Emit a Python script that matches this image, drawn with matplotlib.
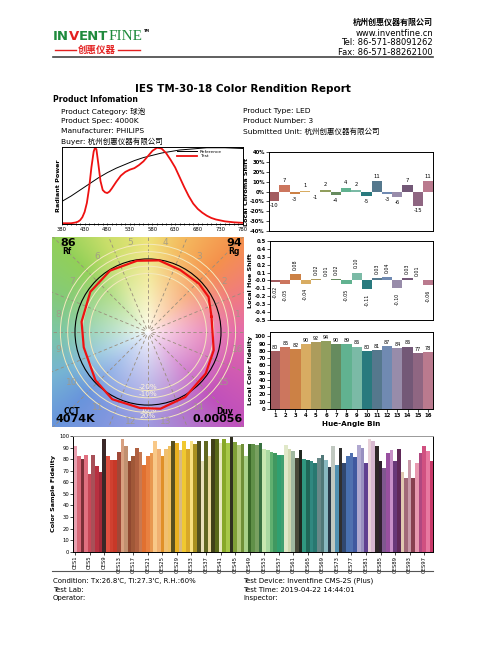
import matplotlib
matplotlib.use("Agg")
import matplotlib.pyplot as plt
import numpy as np
from matplotlib.colors import to_rgb
from matplotlib.lines import Line2D
from matplotlib.patches import Circle

W, H = 487, 655

# ---------------- data ----------------
wavelength = [380, 400, 410, 415, 420, 425, 430, 435, 440, 445, 450, 453, 456, 460,
              465, 470, 475, 480, 485, 490, 500, 510, 520, 530, 540, 550, 560, 570,
              580, 590, 600, 610, 620, 630, 640, 650, 660, 670, 680, 690, 700, 710,
              720, 740, 760, 780]
test_spd = [0.00, 0.00, 0.01, 0.02, 0.04, 0.08, 0.15, 0.27, 0.47, 0.74, 0.95, 1.00, 0.98, 0.80,
            0.56, 0.44, 0.41, 0.40, 0.42, 0.46, 0.55, 0.63, 0.68, 0.71, 0.73, 0.77, 0.82, 0.89,
            0.96, 1.00, 0.99, 0.93, 0.84, 0.74, 0.61, 0.48, 0.36, 0.26, 0.19, 0.14, 0.10, 0.07,
            0.05, 0.025, 0.012, 0.005]
ref_wl = [380, 400, 420, 440, 460, 480, 500, 520, 540, 560, 580, 600, 620, 640, 660,
          680, 700, 720, 740, 760, 780]
ref_spd = [0.29, 0.36, 0.44, 0.52, 0.60, 0.67, 0.73, 0.78, 0.83, 0.87, 0.90, 0.93, 0.95,
           0.97, 0.98, 0.99, 1.00, 1.00, 1.00, 0.995, 0.99]

bins = list(range(1, 17))
chroma_shift = [-10, 7, -3, 1, -1, 2, -4, 4, 2, -5, 11, -3, -6, 7, -15, 11]
hue_shift = [-0.02, -0.05, 0.08, -0.04, 0.02, 0.01, 0.02, -0.05, 0.10, -0.11,
             0.03, 0.04, -0.10, 0.03, 0.01, -0.06]
local_fidelity = [80, 85, 82, 90, 92, 94, 90, 89, 86, 80, 81, 87, 84, 86, 77, 78]
bin_colors = ['#A35C60', '#CC765E', '#CC8145', '#D8AC62', '#AC9C5C', '#919E5D',
              '#668B5E', '#61B290', '#7BBAA6', '#297A7E', '#55788D', '#708AB2',
              '#988CAA', '#735877', '#8F6682', '#BA7A8E']

# test polygon of the colour vector graphic (reference circle has radius 1)
cvg_test_x = [0.87, 0.83, 0.70, 0.44, 0.15, -0.15, -0.52, -0.79, -0.91,
              -0.88, -0.72, -0.49, -0.11, 0.17, 0.51, 0.79, 0.90]
cvg_test_y = [0.21, 0.48, 0.66, 0.85, 0.98, 0.975, 0.84, 0.55, 0.14,
              -0.21, -0.66, -0.92, -1.04, -1.05, -0.89, -0.57, -0.25]

rf, rg, cct, duv = 86, 94, 4074, 0.00056

ces_fidelity = [91, 83, 80, 84, 67, 84, 74, 69, 97, 83,
                79, 79, 86, 97, 91, 78, 83, 90, 86, 75,
                83, 85, 96, 89, 83, 89, 91, 96, 94, 88,
                96, 89, 96, 93, 96, 78, 96, 83, 97, 97,
                94, 97, 94, 100, 95, 92, 93, 83, 93, 93,
                92, 94, 89, 88, 86, 85, 84, 84, 92, 89,
                87, 81, 88, 80, 79, 78, 77, 81, 84, 79,
                73, 91, 75, 90, 77, 83, 85, 82, 92, 90,
                77, 97, 96, 91, 78, 72, 85, 88, 78, 89,
                69, 64, 79, 64, 77, 85, 91, 87, 78]
ces_colors = ['#E8A0B0', '#D86878', '#7A3038', '#E07080', '#C84858', '#A85058', '#B83040', '#A02838', '#3A2828', '#E05040',
              '#D04030', '#C83828', '#A04838', '#D8A080', '#C09070', '#904830', '#A05838', '#B06040', '#C87850', '#E07030',
              '#E88040', '#E89850', '#F8C888', '#F0B070', '#E09028', '#F0C070', '#F0C060', '#585020', '#E8B020', '#D8B880',
              '#F0C830', '#D8A828', '#F8E080', '#A89020', '#505020', '#E8E0B8', '#606820', '#E8D898', '#404018', '#586818',
              '#E8E8C0', '#88A828', '#A8C848', '#303020', '#80A038', '#B0C878', '#709038', '#A8D088', '#3A6828', '#609048',
              '#78A060', '#387040', '#C8E8B0', '#A8D8A0', '#60B070', '#409860', '#30A070', '#40A070', '#E0E8C8', '#D0D8B0',
              '#A0B8A0', '#484838', '#202820', '#309880', '#206858', '#308880', '#287870', '#688888', '#507878', '#88B8C0',
              '#283848', '#C0C8C0', '#5090B0', '#303030', '#304870', '#4870B0', '#5070B0', '#4058A0', '#B0A8D0', '#9890C0',
              '#604090', '#E8D0D8', '#D8B8D0', '#302828', '#302030', '#805890', '#9850A0', '#C890C8', '#683878', '#602858',
              '#E0C8B0', '#A06878', '#C898A8', '#884050', '#E898B0', '#B04880', '#D05080', '#E878A0', '#C83868']
ces_ticks = list(range(1, 100, 4))

# ---------------- figure ----------------
plt.rcParams['font.family'] = ['DejaVu Sans', 'Noto Sans CJK SC']
plt.rcParams['axes.linewidth'] = 0.7
fig = plt.figure(figsize=(W / 100, H / 100), dpi=100)


def ax_box(l, t, r, b):
    return [l / W, 1 - b / H, (r - l) / W, (b - t) / H]


def ftext(x, y, s, **kw):
    kw.setdefault('va', 'center')
    return fig.text(x / W, 1 - y / H, s, **kw)


def hline(x0, x1, y, **kw):
    fig.add_artist(Line2D([x0 / W, x1 / W], [1 - y / H, 1 - y / H], **kw))


GREEN, RED = '#1F8A3C', '#E32020'

# logo
renderer = fig.canvas.get_renderer()
x = 53
for s, c, fam, wt in [('IN', GREEN, 'DejaVu Sans', 'bold'), ('V', RED, 'DejaVu Sans', 'bold'),
                      ('ENT', GREEN, 'DejaVu Sans', 'bold'), ('FINE', GREEN, 'Liberation Serif', 'normal')]:
    t = ftext(x, 40, s, color=c, family=fam, weight=wt, fontsize=9.5 if fam != 'Liberation Serif' else 11,
              va='baseline')
    x += t.get_window_extent(renderer).width
ftext(x + 1, 31, 'TM', fontsize=2.5, weight='bold')
ftext(97, 50, '创惠仪器', color=RED, fontsize=6.8, ha='center', weight='bold')
hline(55, 76, 50, color=RED, lw=1.0)
hline(118, 140, 50, color=RED, lw=1.0)

# header right
ftext(433, 22, '杭州创惠仪器有限公司', ha='right', fontsize=5.8, weight='bold')
ftext(433, 33, 'www.inventfine.cn', ha='right', fontsize=6)
ftext(433, 42.5, 'Tel: 86-571-88091262', ha='right', fontsize=6)
ftext(433, 52.5, 'Fax: 86-571-88262100', ha='right', fontsize=6)
hline(53, 433, 57, color='#444444', lw=1.2)

ftext(243, 89, 'IES TM-30-18 Color Rendition Report', ha='center', fontsize=7.5, weight='bold')

# product information
ftext(53, 100, 'Product Infomation', fontsize=5.6, weight='bold')
left_info = ['Product Category: 球泡', 'Product Spec: 4000K', 'Manufacturer: PHILIPS', 'Buyer: 杭州创惠仪器有限公司']
right_info = ['Product Type: LED', 'Product Number: 3', 'Submitted Unit: 杭州创惠仪器有限公司']
for i, s in enumerate(left_info):
    ftext(61, 111 + i * 10, s, fontsize=5.4)
for i, s in enumerate(right_info):
    ftext(243, 111 + i * 10, s, fontsize=5.4)

TICK = dict(labelsize=3.8, length=2, width=0.5, pad=1)

# ---------------- spectrum ----------------
ax = fig.add_axes(ax_box(62, 147, 243, 224))
ax.plot(ref_wl, ref_spd, color='black', lw=0.7, label='Reference')
ax.plot(wavelength, test_spd, color='#EE1111', lw=1.3, label='Test')
ax.set_xlim(380, 780)
ax.set_ylim(-0.01, 1.01)
ax.set_xticks(range(380, 781, 50))
ax.set_xticks(range(380, 781, 10), minor=True)
ax.set_yticks([])
ax.tick_params(axis='x', which='both', direction='inout', **TICK)
ax.tick_params(axis='x', which='minor', length=2)
ax.set_ylabel('Radiant Power', fontsize=4.6, weight='bold', labelpad=1)
ax.legend(loc='upper right', fontsize=3.2, frameon=False, handlelength=4.5,
          labelspacing=0.1, borderaxespad=0.2, bbox_to_anchor=(0.9, 1.0))

# ---------------- local chroma shift ----------------
ax = fig.add_axes(ax_box(269, 152, 433, 231))
ax.bar(bins, chroma_shift, width=1.0, color=bin_colors)
for b, v in zip(bins, chroma_shift):
    ax.annotate(f'{v}', (b, v), xytext=(0, 1.5 if v >= 0 else -1.5), textcoords='offset points',
                ha='center', va='bottom' if v >= 0 else 'top', fontsize=3.8)
ax.set_xlim(0.5, 16.5)
ax.set_ylim(-40, 40)
ax.set_yticks(range(-40, 41, 10))
ax.set_yticklabels([f'{v}%' for v in range(-40, 41, 10)], weight='bold')
ax.set_xticks([])
ax.tick_params(axis='y', **TICK)
ax.set_ylabel('Local Chroma Shift', fontsize=4.6, weight='bold', labelpad=1)

# ---------------- local hue shift ----------------
ax = fig.add_axes(ax_box(270, 241, 433, 320))
ax.bar(bins, hue_shift, width=1.0, color=bin_colors)
for b, v in zip(bins, hue_shift):
    ax.annotate(f'{v:.2f}', (b, v), xytext=(0, 3 if v >= 0 else -3), textcoords='offset points',
                ha='center', va='bottom' if v >= 0 else 'top', fontsize=3.4, rotation=90)
ax.set_xlim(0.5, 16.5)
ax.set_ylim(-0.5, 0.5)
ax.set_yticks(np.round(np.arange(-0.5, 0.51, 0.1), 1))
ax.set_yticklabels([f'{v:.1f}' for v in np.round(np.arange(-0.5, 0.51, 0.1), 1)], weight='bold')
ax.set_xticks([])
ax.tick_params(axis='y', **TICK)
ax.set_ylabel('Local Hue Shift', fontsize=4.6, weight='bold', labelpad=1)

# ---------------- local color fidelity ----------------
ax = fig.add_axes(ax_box(270, 332, 433, 409))
ax.bar(bins, local_fidelity, width=1.0, color=bin_colors)
for b, v in zip(bins, local_fidelity):
    ax.annotate(f'{v}', (b, v), xytext=(0, 0.8), textcoords='offset points',
                ha='center', va='bottom', fontsize=3.5)
ax.set_xlim(0.5, 16.5)
ax.set_ylim(0, 106)
ax.set_yticks(range(0, 101, 10))
ax.set_xticks(bins)
ax.tick_params(axis='both', **TICK)
for lab in ax.get_xticklabels() + ax.get_yticklabels():
    lab.set_fontweight('bold')
ax.set_ylabel('Local Color Fidelity', fontsize=4.6, weight='bold', labelpad=1)
ax.set_xlabel('Hue-Angle Bin', fontsize=5.2, weight='bold', labelpad=2)

# ---------------- colour vector graphic ----------------
ax = fig.add_axes(ax_box(52, 237, 244, 427))
XL, YL = 1.315, 1.30
anchor_deg = [0, 22.5, 45, 70, 90, 115, 135, 160, 180, 205, 225, 250, 270, 295, 315, 340, 360]
anchor_hex = ['#E46CAC', '#F07C80', '#F5914C', '#F4BC60', '#EEE47A', '#C8DE6A', '#92D058',
              '#84CA7C', '#7CC6A4', '#76B4D4', '#6894DC', '#8898E0', '#A09CE0', '#B276CC',
              '#C050BC', '#D45EB0', '#E46CAC']
rgb_anchor = np.array([to_rgb(c) for c in anchor_hex])
gx = np.linspace(-XL, XL, 320)
gy = np.linspace(-YL, YL, 320)
xx, yy = np.meshgrid(gx, gy)
ang = np.degrees(np.arctan2(yy, xx)) % 360
sat = np.clip(np.hypot(xx, yy) / 1.2, 0, 1) ** 0.7
img = np.stack([np.interp(ang, anchor_deg, rgb_anchor[:, k]) for k in range(3)], axis=-1)
img = 1 - sat[..., None] * (1 - img)
ax.imshow(img, extent=[-XL, XL, -YL, YL], origin='lower', aspect='auto', zorder=0)
for k in range(16):
    a = np.radians(k * 22.5)
    ax.plot([0.05 * np.cos(a), 2 * np.cos(a)], [0.05 * np.sin(a), 2 * np.sin(a)],
            color='#9A8E7C', lw=0.6, ls=(0, (4, 3)), zorder=1)
for r in (0.8, 0.9, 1.1, 1.2):
    ax.add_patch(Circle((0, 0), r, fill=False, ec='#F4E9BE', lw=0.7, zorder=2))
for k in range(16):
    a = np.radians((k + 0.5) * 22.5)
    ax.text(1.25 * np.cos(a), 1.25 * np.sin(a), str(k + 1), ha='center', va='center',
            fontsize=6.5, color='#A09A88', alpha=0.9, zorder=2)
for yv, s in [(-0.75, '-20%'), (-0.85, '-10%'), (-1.065, '10%'), (-1.15, '20%')]:
    ax.text(0, yv, s, ha='center', va='center', fontsize=5.2, color='#FFF6DA', zorder=3)
ax.add_patch(Circle((0, 0), 1.0, fill=False, ec='black', lw=0.8, zorder=4))
ax.plot(cvg_test_x + cvg_test_x[:1], cvg_test_y + cvg_test_y[:1], color='#EE1111', lw=1.6, zorder=5)
ax.set_xlim(-XL, XL)
ax.set_ylim(-YL, YL)
ax.axis('off')

ftext(68, 243, f'{rf}', ha='center', fontsize=8, weight='bold')
ftext(67, 251.5, 'Rf', ha='center', fontsize=5.5, weight='bold')
ftext(234, 243, f'{rg}', ha='center', fontsize=8, weight='bold')
ftext(234, 251.5, 'Rg', ha='center', fontsize=5.5, weight='bold')
ftext(72, 411, 'CCT', ha='center', fontsize=5.5, weight='bold')
ftext(55, 419.5, f'{cct}K', fontsize=8, weight='bold')
ftext(225, 411, 'Duv', ha='center', fontsize=5.5, weight='bold')
ftext(243, 419.5, f'{duv:.5f}', ha='right', fontsize=8, weight='bold')

# ---------------- colour sample fidelity ----------------
ax = fig.add_axes(ax_box(73.3, 436, 433.3, 551.7))
ces_idx = list(range(1, 100))
ax.bar(ces_idx, ces_fidelity, width=1.0, color=ces_colors)
ax.set_xlim(0.5, 99.5)
ax.set_ylim(0, 100)
ax.set_yticks(range(0, 101, 10))
ax.set_xticks(ces_ticks)
ax.set_xticklabels([f'CES{i}' for i in ces_ticks], rotation=90)
ax.tick_params(axis='both', **TICK)
ax.spines['top'].set_color('#999999')
ax.set_ylabel('Color Sample Fidelity', fontsize=4.6, weight='bold', labelpad=2)

hline(52, 433, 571, color='#555555', lw=0.8)

# footer
ftext(53, 581, "Condition: Tx:26.8'C, Ti:27.3'C, R.H.:60%", fontsize=5)
ftext(53, 589.5, 'Test Lab:', fontsize=5)
ftext(53, 598, 'Operator:', fontsize=5)
ftext(243, 581, 'Test Device: Inventfine CMS-2S (Plus)', fontsize=5)
ftext(243, 589.5, 'Test Time: 2019-04-22 14:44:01', fontsize=5)
ftext(243, 598, 'Inspector:', fontsize=5)

fig.savefig('out.png', dpi=100, facecolor='white')
